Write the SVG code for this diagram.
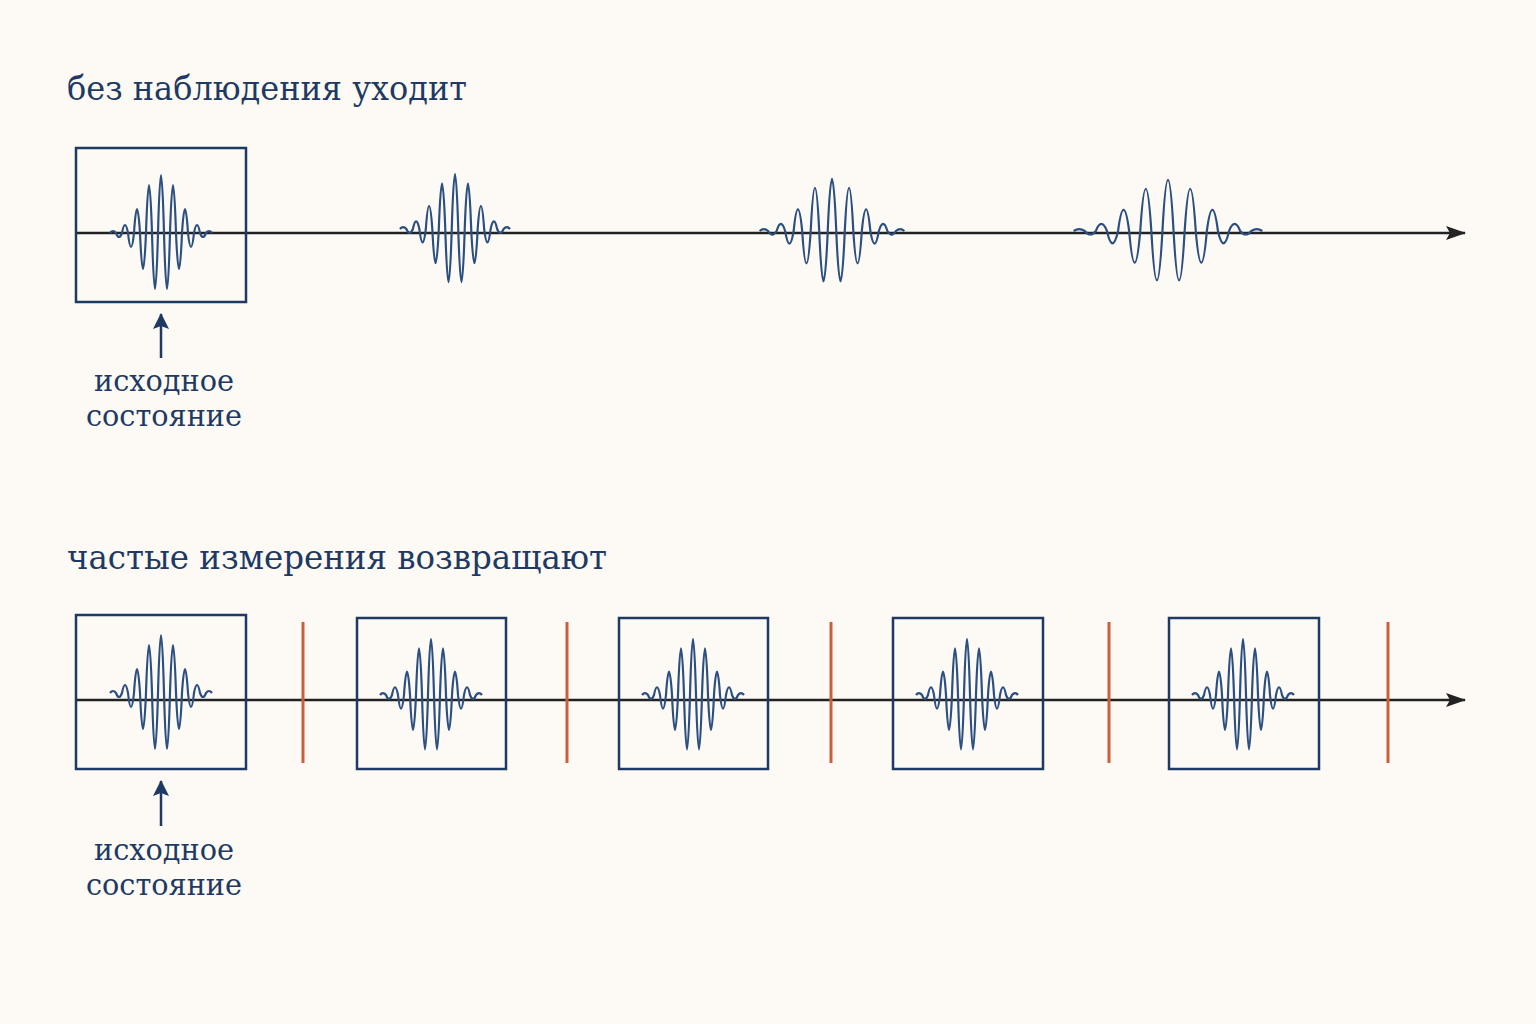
<svg xmlns="http://www.w3.org/2000/svg" width="1536" height="1024" viewBox="0 0 1536 1024">
<style>
.t{font-family:"DejaVu Serif","Liberation Serif",serif;fill:#1e3a64}
.box{fill:none;stroke:#1e3a64;stroke-width:2.5}
.wave{fill:none;stroke:#2b4f80;stroke-width:2.2;vector-effect:non-scaling-stroke}
.axis{stroke:#222;stroke-width:2.5;fill:none}
.meas{stroke:#c9603a;stroke-width:3}
.up{stroke:#1e3a64;stroke-width:2.5;fill:none}
</style>
<defs>
<marker id="ah" markerWidth="20" markerHeight="14" refX="19" refY="7" orient="auto" markerUnits="userSpaceOnUse"><path d="M0,0 L20,7 L0,14 L4,7 Z" fill="#222"/></marker>
<marker id="au" markerWidth="16" markerHeight="16" refX="15" refY="8" orient="auto" markerUnits="userSpaceOnUse"><path d="M0,0 L16,8 L0,16 L3,8 Z" fill="#1e3a64"/></marker>
<path id="pk" class="wave" d="M-51,0 Q-48,-4 -45,0 Q-42,8 -39,0 Q-36,-16 -33,0 Q-30,28 -27,0 Q-24,-48 -21,0 Q-18,72 -15,0 Q-12,-96 -9,0 Q-6,112 -3,0 Q0,-116 3,0 Q6,112 9,0 Q12,-96 15,0 Q18,72 21,0 Q24,-48 27,0 Q30,28 33,0 Q36,-16 39,0 Q42,8 45,0 Q48,-4 51,0"/>
</defs>
<rect width="1536" height="1024" fill="#fdfaf5"/>
<text class="t" x="67" y="100" font-size="33" textLength="400" lengthAdjust="spacingAndGlyphs">без наблюдения уходит</text>
<text class="t" x="67" y="569" font-size="33" textLength="540" lengthAdjust="spacingAndGlyphs">частые измерения возвращают</text>
<g id="connectors">
<line class="axis" x1="77" y1="233" x2="1465" y2="233" marker-end="url(#ah)"/>
<line class="axis" x1="77" y1="700" x2="1465" y2="700" marker-end="url(#ah)"/>
<line class="up" x1="161" y1="358" x2="161" y2="314" marker-end="url(#au)"/>
<line class="up" x1="161" y1="826" x2="161" y2="781" marker-end="url(#au)"/>
</g>
<g id="top">
<rect class="box" x="76" y="148" width="170" height="154"/>
<use href="#pk" transform="translate(161,233)"/>
<use href="#pk" transform="translate(455,229) scale(1.08,0.95)"/>
<use href="#pk" transform="translate(832,231) scale(1.42,0.9)"/>
<use href="#pk" transform="translate(1168,231) scale(1.85,0.88)"/>
</g>
<g id="bottom">
<rect class="box" x="76" y="615" width="170" height="154"/>
<rect class="box" x="357" y="618" width="149" height="151"/>
<rect class="box" x="619" y="618" width="149" height="151"/>
<rect class="box" x="893" y="618" width="150" height="151"/>
<rect class="box" x="1169" y="618" width="150" height="151"/>
<use href="#pk" transform="translate(161,693)"/>
<use href="#pk" transform="translate(431,695) scale(1,0.97)"/>
<use href="#pk" transform="translate(693,695) scale(1,0.97)"/>
<use href="#pk" transform="translate(967,695) scale(1,0.97)"/>
<use href="#pk" transform="translate(1243,695) scale(1,0.97)"/>
<line class="meas" x1="303" y1="622" x2="303" y2="763"/>
<line class="meas" x1="567" y1="622" x2="567" y2="763"/>
<line class="meas" x1="831" y1="622" x2="831" y2="763"/>
<line class="meas" x1="1109" y1="622" x2="1109" y2="763"/>
<line class="meas" x1="1388" y1="622" x2="1388" y2="763"/>
</g>
<g id="label1"><text class="t" font-size="29" text-anchor="middle" x="164" y="391" textLength="140" lengthAdjust="spacingAndGlyphs">исходное</text><text class="t" font-size="29" text-anchor="middle" x="164" y="426" textLength="156" lengthAdjust="spacingAndGlyphs">состояние</text></g>
<g id="label2"><text class="t" font-size="29" text-anchor="middle" x="164" y="860" textLength="140" lengthAdjust="spacingAndGlyphs">исходное</text><text class="t" font-size="29" text-anchor="middle" x="164" y="895" textLength="156" lengthAdjust="spacingAndGlyphs">состояние</text></g>
</svg>
